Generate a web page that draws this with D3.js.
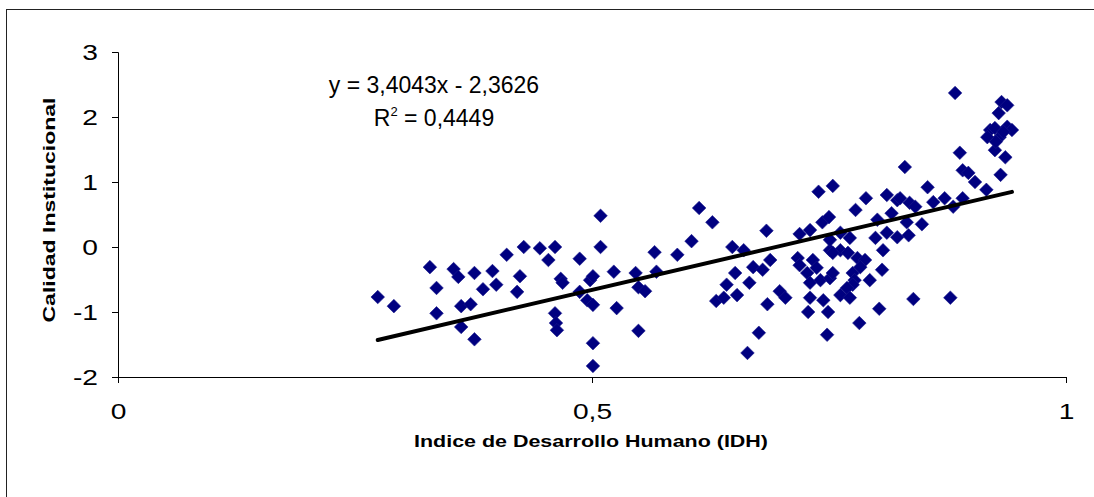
<!DOCTYPE html>
<html><head><meta charset="utf-8">
<script src="https://cdn.jsdelivr.net/npm/d3@7"></script>
<style>body{margin:0;background:#fff;}svg{display:block;font-family:"Liberation Sans",Arial,sans-serif;}</style>
</head><body><svg id="c" width="1094" height="497"></svg>
<script>
const idh = [0.274,0.291,0.329,0.336,0.336,0.354,0.359,0.362,0.362,0.372,0.376,0.376,0.385,0.395,0.399,0.410,0.424,0.421,0.428,0.445,0.454,0.461,0.461,0.462,0.463,0.467,0.469,0.487,0.487,0.495,0.498,0.501,0.501,0.501,0.501,0.509,0.509,0.523,0.526,0.546,0.549,0.556,0.549,0.566,0.568,0.590,0.605,0.613,0.627,0.631,0.639,0.642,0.648,0.660,0.651,0.653,0.666,0.670,0.680,0.688,0.684,0.685,0.676,0.664,0.698,0.704,
0.717,0.719,0.719,0.730,0.739,0.754,0.743,0.750,0.733,0.737,0.727,0.730,0.741,0.751,0.754,0.751,0.762,0.751,0.762,0.772,0.770,0.780,0.788,0.775,0.783,0.777,0.775,0.769,0.762,0.772,0.793,0.806,0.730,0.744,0.728,0.749,0.803,0.782,0.748,0.778,0.789,0.811,0.822,0.816,0.801,0.799,0.807,0.811,0.822,0.754,
0.830,0.825,0.835,0.841,0.848,0.832,0.834,0.854,0.860,0.872,0.891,0.881,0.839,0.878,0.883,0.888,0.891,0.897,0.904,0.916,0.932,0.938,0.929,0.920,0.938,0.943,0.930,0.917,0.925,0.936,0.931,0.925,0.934,0.926];
const calidad = [-0.77,-0.91,-0.31,-0.63,-1.02,-0.34,-0.46,-0.91,-1.23,-0.88,-1.42,-0.40,-0.65,-0.37,-0.58,-0.12,-0.45,-0.69,0.00,-0.02,-0.20,0.00,-1.02,-1.17,-1.28,-0.49,-0.55,-0.18,-0.69,-0.82,-0.51,-0.45,-0.89,-1.48,-1.83,0.00,0.48,-0.38,-0.94,-0.40,-0.62,-0.68,-1.29,-0.08,-0.38,-0.12,0.09,0.60,0.38,-0.83,-0.78,-0.58,0.00,-0.05,-0.40,-0.74,-0.55,-0.31,-0.35,-0.20,0.25,-0.88,-1.32,-1.63,-0.68,-0.78,
-0.17,-0.28,0.20,0.26,0.85,0.94,0.38,0.46,-0.20,-0.32,-0.40,-0.55,-0.51,-0.48,-0.40,-0.05,-0.05,0.11,0.22,0.14,-0.09,-0.17,-0.20,-0.40,-0.31,-0.51,-0.58,-0.63,-0.74,-0.78,-0.51,-0.35,-0.78,-0.82,-1.00,-1.00,-0.95,-1.17,-1.35,0.57,0.75,0.80,0.72,0.52,0.42,0.14,-0.05,0.22,0.15,-0.09,
1.23,0.75,0.68,0.62,0.35,0.38,0.18,0.92,0.69,0.75,0.75,0.62,-0.80,-0.78,2.37,1.45,1.18,1.14,1.00,0.88,2.23,2.18,2.06,1.80,1.85,1.80,1.69,1.69,1.49,1.38,1.11,1.83,1.77,1.62];
const xTicks = [0, 0.5, 1];
const xTickLabels = ["0", "0,5", "1"];
const yTicks = [-2, -1, 0, 1, 2, 3];
const slope = 3.4043, intercept = -2.3626;
const eqText = "y = 3,4043x - 2,3626";
const r2Value = "0,4449";

const svg = d3.select("#c");
svg.append("rect").attr("x",6.5).attr("y",9.5).attr("width",1200).attr("height",600)
  .attr("fill","none").attr("stroke","#222").attr("stroke-width",1);

const x = d3.scaleLinear().domain([0,1]).range([118,1066]);
const y = d3.scaleLinear().domain([-2,3]).range([377,52]);

function stretch(sel, k){
  sel.each(function(){
    const w = this.getComputedTextLength();
    d3.select(this).attr("textLength", w*k).attr("lengthAdjust","spacingAndGlyphs");
  });
}

const yAx = svg.append("g").attr("transform","translate(118,0)")
  .call(d3.axisLeft(y).tickValues(yTicks).tickSize(6).tickPadding(14).tickFormat(d=>d));
yAx.select(".domain").attr("d","M-6,52.5H0.5V377.5");
const xAx = svg.append("g").attr("transform","translate(0,377)")
  .call(d3.axisBottom(x).tickValues(xTicks).tickSize(6).tickPadding(20).tickFormat((d,i)=>xTickLabels[i]));
[yAx,xAx].forEach(g=>{
  g.selectAll("path,line").attr("stroke","#000").attr("stroke-width",1);
  g.selectAll("text").attr("font-size",22).attr("fill","#000").attr("font-family","Liberation Sans, Arial, sans-serif");
  stretch(g.selectAll("text"), 1.28);
});

const pts = idh.map((v,i)=>[v,calidad[i]]);
const dp = "M0,-6.8L6.8,0L0,6.8L-6.8,0Z";
svg.append("g").selectAll("path").data(pts).join("path")
  .attr("d",dp).attr("transform",d=>`translate(${x(d[0])},${y(d[1])})`)
  .attr("fill","#000080").attr("stroke","#1a1a8c").attr("stroke-width",0.6);

const xmin = d3.min(idh), xmax = d3.max(idh);
svg.append("line").attr("x1",x(xmin)).attr("y1",y(slope*xmin+intercept))
  .attr("x2",x(xmax)).attr("y2",y(slope*xmax+intercept))
  .attr("stroke","#000").attr("stroke-width",4).attr("stroke-linecap","round");

svg.append("text").attr("x",434).attr("y",93).attr("text-anchor","middle").attr("font-size",23).text(eqText);
const r2 = svg.append("text").attr("x",434).attr("y",126).attr("text-anchor","middle").attr("font-size",23);
r2.append("tspan").text("R");
r2.append("tspan").attr("dy",-10).attr("font-size",13).text("2");
r2.append("tspan").attr("dy",10).text(" = " + r2Value);

const yt = svg.append("text").attr("transform","translate(55,210) rotate(-90)").attr("text-anchor","middle")
  .attr("font-size",17).attr("font-weight","bold").text("Calidad Institucional");
yt.attr("textLength",225).attr("lengthAdjust","spacingAndGlyphs");
const xt = svg.append("text").attr("x",591).attr("y",447).attr("text-anchor","middle")
  .attr("font-size",17).attr("font-weight","bold").text("Indice de Desarrollo Humano (IDH)");
xt.attr("textLength",354).attr("lengthAdjust","spacingAndGlyphs");
</script></body></html>
